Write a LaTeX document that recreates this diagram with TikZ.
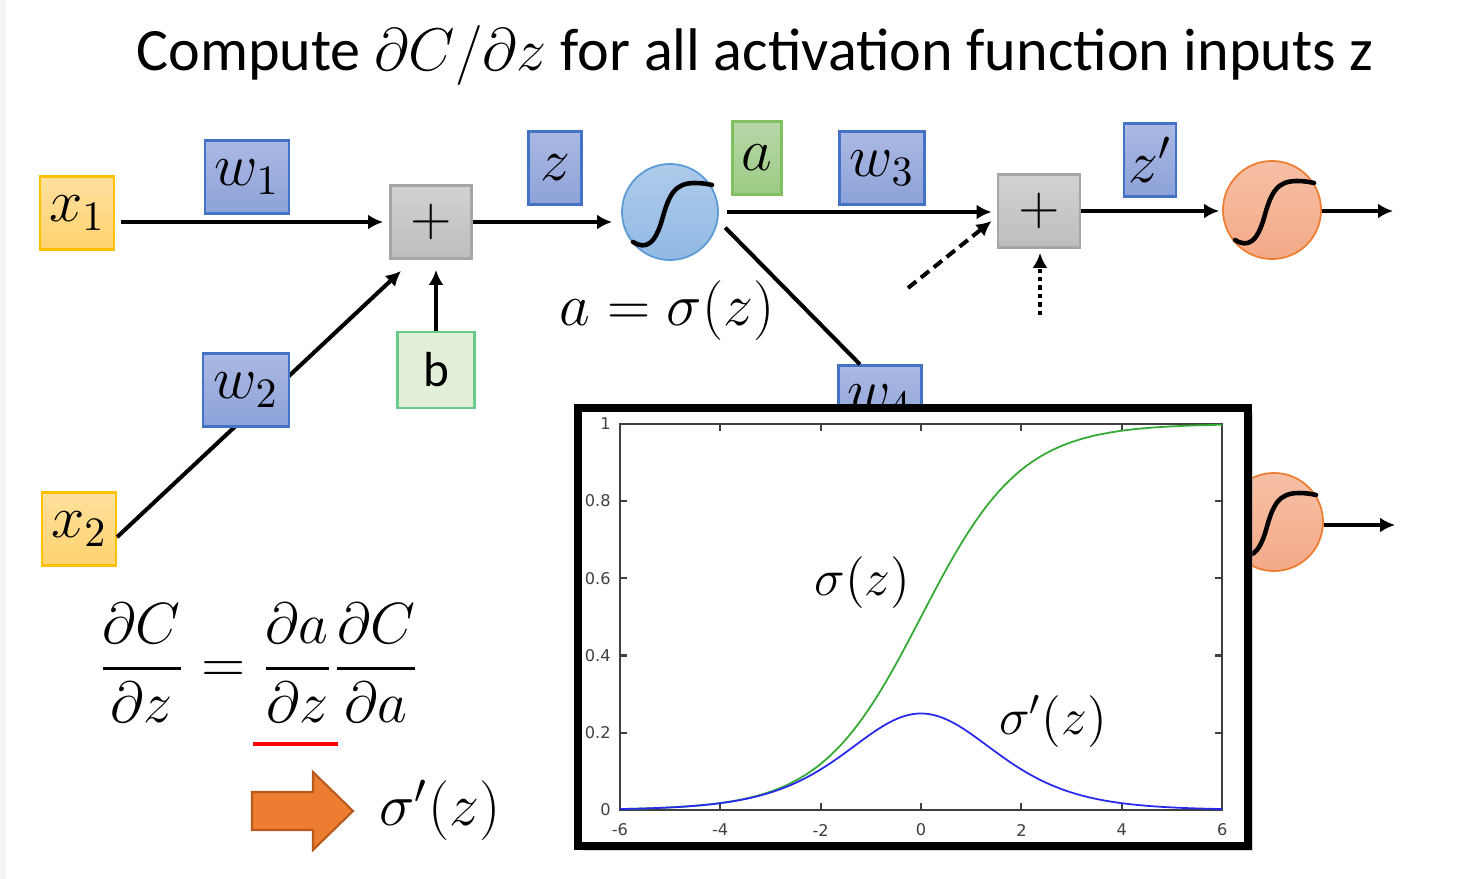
\RequirePackage{fix-cm}
\documentclass[tikz,border=0pt]{standalone}
\usepackage{amsmath}
\usepackage{fontspec}
\setmainfont{Carlito}
\newfontfamily\plotfont{DejaVu Sans}
\usetikzlibrary{arrows.meta,calc,shadows}

\definecolor{xtop}{HTML}{FFE09E}
\definecolor{xbot}{HTML}{FFD26E}
\definecolor{xedge}{HTML}{FFC000}
\definecolor{wtop}{HTML}{ABB9E3}
\definecolor{wbot}{HTML}{8CA2D9}
\definecolor{wedge}{HTML}{4472C4}
\definecolor{ptop}{HTML}{D2D2D2}
\definecolor{pbot}{HTML}{BDBDBD}
\definecolor{pedge}{HTML}{A6A6A6}
\definecolor{bfill}{HTML}{E2F0D9}
\definecolor{bedge}{HTML}{66CC88}
\definecolor{atop}{HTML}{B6D7A8}
\definecolor{abot}{HTML}{9DCB84}
\definecolor{aedge}{HTML}{82BF60}
\definecolor{sbtop}{HTML}{ADCBEA}
\definecolor{sbbot}{HTML}{92B9E4}
\definecolor{sbedge}{HTML}{5B9BD5}
\definecolor{sotop}{HTML}{F6C0A6}
\definecolor{sobot}{HTML}{F4A987}
\definecolor{soedge}{HTML}{ED7D31}
\definecolor{blockfill}{HTML}{ED7D31}
\definecolor{blockedge}{HTML}{B85A1C}
\definecolor{sigcol}{HTML}{33AA33}
\definecolor{dsigcol}{HTML}{2828F0}
\definecolor{axiscol}{HTML}{404040}
\definecolor{strip}{HTML}{F4F4F4}

\tikzstyle{mathbig} = [font=\fontsize{17}{20}\selectfont]
\tikzstyle{xbox} = [mathbig, draw=xedge, top color=xtop, bottom color=xbot, minimum width=.74cm, minimum height=.73cm, inner sep=0pt, line width=.6pt]
\tikzstyle{wbox} = [mathbig, draw=wedge, top color=wtop, bottom color=wbot, minimum height=.73cm, inner sep=0pt, line width=.6pt]
\tikzstyle{abox} = [mathbig, draw=aedge, top color=atop, bottom color=abot, minimum height=.73cm, inner sep=0pt, line width=.6pt]
\tikzstyle{plusbox} = [font=\fontsize{15.5}{17}\selectfont, draw=pedge, top color=ptop, bottom color=pbot, minimum width=.81cm, minimum height=.73cm, inner sep=0pt, line width=.8pt]
\tikzstyle{bbox} = [font=\fontsize{14}{16}\selectfont, draw=bedge, fill=bfill, minimum width=.77cm, minimum height=.76cm, inner sep=0pt, line width=.6pt]
\tikzstyle{sigblue} = [circle, draw=sbedge, top color=sbtop, bottom color=sbbot, minimum size=.96cm, inner sep=0pt, line width=.5pt]
\tikzstyle{sigorange} = [circle, draw=soedge, top color=sotop, bottom color=sobot, minimum size=.98cm, inner sep=0pt, line width=.5pt]
\tikzstyle{glyph} = [line width=1.3pt, line cap=round]
\tikzstyle{conn} = [line width=1.15pt, -{Latex[length=1.5mm,width=1.5mm]}]
\tikzstyle{plainline} = [line width=1.15pt]
\tikzstyle{plotlbl} = [font=\plotfont\fontsize{4.6}{5}\selectfont, text=axiscol, inner sep=1pt]
\tikzstyle{plotmath} = [font=\fontsize{14.7}{17}\selectfont]
\tikzstyle{axisline} = [draw=axiscol, line width=.6pt]
\newcommand{\sshape}[1]{\draw[glyph, shift={(#1.center)}] (-37,30) .. controls (-24,38) and (-15,32) .. (-8,8) .. controls (-1,-18) and (5,-29) .. (25,-29) .. controls (32,-29) and (38,-28) .. (42,-27);}

\begin{document}
\begin{tikzpicture}[x=0.01cm, y=-0.01cm]
\useasboundingbox (0,0) rectangle (1473,879);
\fill[strip] (0,0) rectangle (6,879);
% title
\node[font=\fontsize{17.1}{20}\selectfont] (title) at (755,55) {Compute $\partial C/\partial z$ for all activation function inputs z};

% inputs, sums and neurons
\node[xbox] (x1) at (77,213) {$x_1$};
\node[xbox] (x2) at (79,529) {$x_2$};
\node[plusbox] (plus1) at (431,222) {$+$};
\node[bbox] (b) at (436,370) {b};
\node[sigblue] (sig1) at (670,212) {};
\sshape{sig1}
\node[plusbox, minimum width=.82cm] (plus2) at (1039,211) {$+$};
\node[sigorange] (sig2) at (1272,210) {};
\sshape{sig2}
\node[wbox, minimum width=.83cm] (w4) at (880,402) {$w_4$};
\node[sigorange] (sig3) at (1274,522) {};
\sshape{sig3}
\coordinate (dashfrom) at (908,288);
\coordinate (dotfrom) at (1040,315);
\coordinate (out2) at (1393,211);
\coordinate (out3) at (1395,525);

% connectors
\draw[conn, shorten <=.06cm, shorten >=.06cm] (x1.east |- plus1.west) -- (plus1.west);
\draw[conn] (x2.-12) -- ($(plus1.south west)+(12,11)$);
\draw[conn, shorten >=.1cm] (b.north) -- (b.north |- plus1.south);
\draw[conn, shorten >=.09cm] (plus1.east) -- (plus1.east -| sig1.west);
\draw[conn, shorten <=.08cm, shorten >=.05cm] (sig1.east) -- (sig1.east -| plus2.west);
\draw[plainline, shorten <=.1cm] (sig1.-10) -- ([xshift=-.2cm]w4.north);
\draw[conn, dash pattern=on 3pt off 1.7pt] (dashfrom) -- ($(plus2.west)+(-5,10)$);
\draw[conn, dash pattern=on 1.2pt off 1.2pt, shorten >=.04cm] (dotfrom) -- (dotfrom |- plus2.south);
\draw[conn, shorten >=.03cm] (plus2.east) -- (plus2.east -| sig2.west);
\draw[conn] (sig2.east |- out2) -- (out2);
\draw[conn] (sig3.east |- out3) -- (out3);

% weights and values
\node[wbox, minimum width=.84cm] (w1) at (247,177) {$w_1$};
\node[wbox, minimum width=.86cm] (w2) at (246,390) {$w_2$};
\node[wbox, minimum width=.53cm] (z) at (555,168) {$z$};
\node[abox, minimum width=.49cm] (a) at (757,158) {$a$};
\node[wbox, minimum width=.85cm] (w3) at (882,168) {$w_3$};
\node[wbox, minimum width=.52cm] (zp) at (1150,160) {$z'$};
\node[mathbig] (aeq) at (667,311) {$a=\sigma(z)$};

% plot of the sigmoid
\draw[line width=2.2pt, fill=white, drop shadow={shadow xshift=.05cm, shadow yshift=-.05cm, opacity=.35}] (578,408) rectangle (1248,846);
\begin{scope}[shift={(921,810)}, x=0.5017cm, y=3.86cm]
\draw[axisline] (-6,0) rectangle (6,1);
\foreach \t in {-4,-2,0,2,4} {
  \draw[axisline] (\t,0) -- (\t,0.018);
  \draw[axisline] (\t,1) -- (\t,0.982);
}
\foreach \t in {0.2,0.4,0.6,0.8} {
  \draw[axisline] (-6,\t) -- (-5.86,\t);
  \draw[axisline] (6,\t) -- (5.86,\t);
}
\foreach \t in {-6,-4,-2,0,2,4,6}
  \node[plotlbl] at (\t,-0.052) {\t};
\foreach \t in {0,0.2,0.4,0.6,0.8,1}
  \node[plotlbl, anchor=east] at (-6.1,\t) {\t};
\draw[sigcol, line width=.5pt] plot[domain=-6:6, samples=120] (\x, {1/(1+exp(-\x))});
\draw[dsigcol, line width=.5pt] plot[domain=-6:6, samples=120] (\x, {1/((1+exp(-\x))*(1+exp(\x)))});
\node[plotmath] (siglbl) at (-1.17,0.589) {$\sigma(z)$};
\node[plotmath] (dsiglbl) at (2.63,0.23) {$\sigma'(z)$};
\end{scope}

% chain rule
\node[font=\fontsize{16.5}{19}\selectfont] (chain) at (259,663) {$\dfrac{\partial C}{\partial z}=\dfrac{\partial a}{\partial z}\dfrac{\partial C}{\partial a}$};
\draw[red, line width=1.4pt] (253,744) -- (338,744);
\draw[fill=blockfill, draw=blockedge, line width=.6pt] (252,792) -- (313,792) -- (313,772) -- (353,811) -- (313,850) -- (313,830) -- (252,830) -- cycle;
\node[font=\fontsize{17}{20}\selectfont] (result) at (440,810) {$\sigma'(z)$};
\end{tikzpicture}
\end{document}
